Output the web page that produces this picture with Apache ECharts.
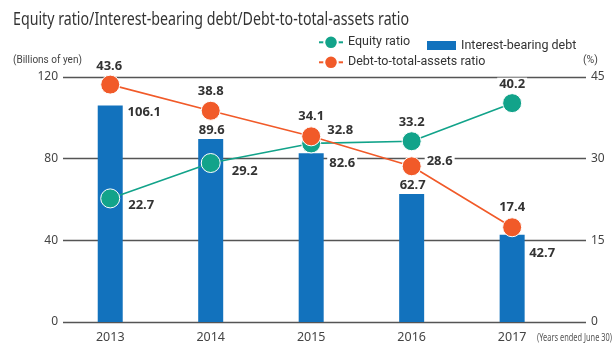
<!DOCTYPE html>
<html>
<head>
<meta charset="utf-8">
<script src="https://cdn.jsdelivr.net/npm/echarts@6/dist/echarts.min.js"></script>
<style>
  html, body { margin: 0; padding: 0; background: #fff; }
  #chart { width: 614px; height: 344px; }
</style>
</head>
<body>
<div id="chart"></div>
<script>
// Fiscal years (ended June 30)
const years = [2013, 2014, 2015, 2016, 2017];
// Interest-bearing debt, billions of yen
const interestBearingDebt = [106.1, 89.6, 82.6, 62.7, 42.7];
// Equity ratio, %
const equityRatio = [22.7, 29.2, 32.8, 33.2, 40.2];
// Debt-to-total-assets ratio, %
const debtToAssets = [43.6, 38.8, 34.1, 28.6, 17.4];
// Axis ticks
const leftTicks = [0, 40, 80, 120];
const rightTicks = [0, 15, 30, 45];

// Label offsets (px) from each mark's anchor
const debtLabelOffsets = [[34, 7], [1, -9], [31, 10], [1, -9], [30, 18]];
const equityLabelOffsets = [[31, 7], [34, 8], [29, -13], [0, -19], [0, -19]];
const assetsLabelOffsets = [[-1, -18], [0, -19], [0, -20], [28, -5], [0, -20]];

const BLUE = '#1272bd';
const GREEN = '#12a38a';
const ORANGE = '#f15a29';
const FONT = '"Noto Sans", "Open Sans", sans-serif';
const TEXT_FONT = 'Roboto, "Noto Sans", sans-serif';

const TITLE = 'Equity ratio/Interest-bearing debt/Debt-to-total-assets ratio';
const NOTE = '(Years ended June 30)';

// Width of a string in a given canvas font
function textWidth(text, font) {
  const ctx = document.createElement('canvas').getContext('2d');
  ctx.font = font;
  return ctx.measureText(text).width;
}

const numberLabel = (offsets, position) => (i) => ({
  show: true,
  position: position,
  distance: 0,
  align: 'center',
  verticalAlign: 'middle',
  offset: offsets[i],
  fontFamily: FONT,
  fontWeight: 'bold',
  fontSize: 13,
  color: '#333',
  backgroundColor: '#fff',
  padding: [0, 2]
});

const debtLbl = numberLabel(debtLabelOffsets, 'top');
const eqLbl = numberLabel(equityLabelOffsets, 'inside');
const asLbl = numberLabel(assetsLabelOffsets, 'inside');

function draw() {
  const chart = echarts.init(document.getElementById('chart'), null, { renderer: 'canvas' });

  // Heading and footnote are set in a narrow face: condense the glyphs horizontally
  const titleFont = '18px ' + FONT;
  const titleScale = 396 / textWidth(TITLE, titleFont);
  const noteFont = '10px ' + FONT;
  const noteScale = 75 / textWidth(NOTE, noteFont);

  const legendText = { fontFamily: TEXT_FONT, fontSize: 12.5, color: '#333' };
  const legendBase = { padding: 0, textStyle: legendText };

  chart.setOption({
    animation: false,
    backgroundColor: '#fff',
    legend: [
      Object.assign({
        left: 318, top: 34.5, itemWidth: 24, itemHeight: 17,
        data: ['Equity ratio']
      }, legendBase),
      Object.assign({
        left: 427, top: 39, itemWidth: 29, itemHeight: 9,
        data: [{ name: 'Interest-bearing debt', icon: 'rect' }]
      }, legendBase),
      Object.assign({
        left: 318, top: 54.5, itemWidth: 24, itemHeight: 17,
        data: ['Debt-to-total-assets ratio']
      }, legendBase)
    ],
    grid: { left: 63, right: 28, top: 77, bottom: 22 },
    xAxis: {
      type: 'value',
      min: 2012.53,
      max: 2017.735,
      axisLine: { show: false },
      axisTick: { show: false },
      splitLine: { show: false },
      axisLabel: {
        customValues: years,
        formatter: (v) => String(v),
        margin: 9,
        fontFamily: FONT,
        fontSize: 12.5,
        color: '#444'
      }
    },
    yAxis: [
      {
        type: 'value', min: 0, max: 120, interval: 40,
        axisLine: { show: false }, axisTick: { show: false },
        axisLabel: {
          customValues: leftTicks, margin: 5,
          fontFamily: FONT, fontSize: 12, color: '#444'
        },
        splitLine: { lineStyle: { color: '#555', width: 1.4 } }
      },
      {
        type: 'value', min: 0, max: 45, interval: 15,
        axisLine: { show: false }, axisTick: { show: false },
        axisLabel: {
          customValues: rightTicks, margin: 5,
          fontFamily: FONT, fontSize: 12, color: '#444'
        },
        splitLine: { show: false }
      }
    ],
    graphic: [
      {
        type: 'text', x: 13, y: 20, scaleX: titleScale,
        style: {
          text: TITLE, font: titleFont, fill: '#333',
          verticalAlign: 'middle'
        }
      },
      {
        type: 'text', left: 13, top: 55,
        style: { text: '(Billions of yen)', font: '10px ' + TEXT_FONT, fill: '#444' }
      },
      {
        type: 'text', left: 583, top: 55,
        style: { text: '(%)', font: '10.5px ' + TEXT_FONT, fill: '#444' }
      },
      {
        type: 'text', x: 537, y: 338, scaleX: noteScale,
        style: {
          text: NOTE, font: noteFont, fill: '#555',
          verticalAlign: 'middle'
        }
      }
    ],
    series: [
      {
        name: 'Interest-bearing debt',
        type: 'bar',
        yAxisIndex: 0,
        barWidth: 25,
        z: 2,
        itemStyle: { color: BLUE },
        data: years.map((y, i) => ({ value: [y, interestBearingDebt[i]], label: debtLbl(i) }))
      },
      {
        name: 'Equity ratio',
        type: 'line',
        yAxisIndex: 1,
        z: 3,
        symbol: 'circle',
        symbolSize: 19,
        lineStyle: { color: GREEN, width: 1.6 },
        itemStyle: { color: GREEN, borderColor: '#fff', borderWidth: 1 },
        data: years.map((y, i) => ({ value: [y, equityRatio[i]], label: eqLbl(i) }))
      },
      {
        name: 'Debt-to-total-assets ratio',
        type: 'line',
        yAxisIndex: 1,
        z: 4,
        symbol: 'circle',
        symbolSize: 19,
        lineStyle: { color: ORANGE, width: 1.6 },
        itemStyle: { color: ORANGE, borderColor: '#fff', borderWidth: 1 },
        data: years.map((y, i) => ({ value: [y, debtToAssets[i]], label: asLbl(i) }))
      }
    ]
  });
}

if (document.fonts && document.fonts.load) {
  Promise.all([
    document.fonts.load('16px Roboto'),
    document.fonts.load('16px "Noto Sans"'),
    document.fonts.load('bold 16px "Noto Sans"')
  ]).then(draw, draw);
} else {
  draw();
}
</script>
</body>
</html>
